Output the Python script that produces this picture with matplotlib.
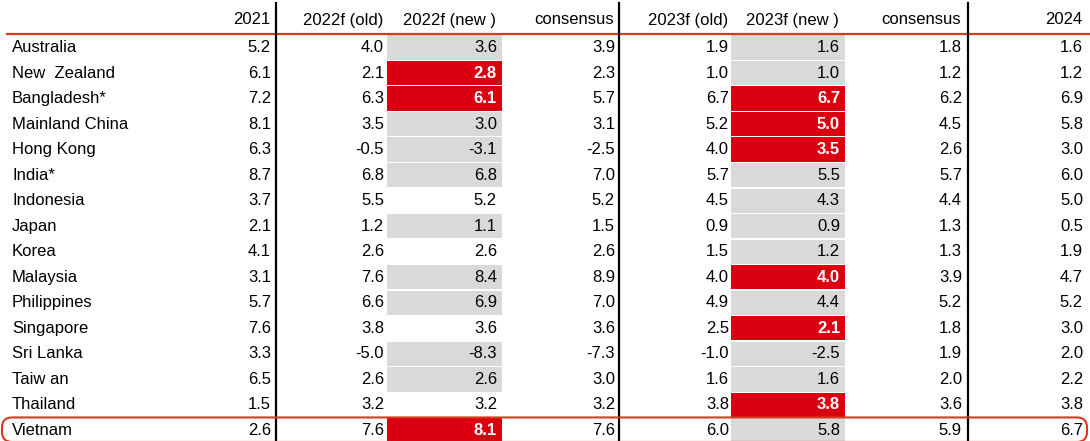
import matplotlib.pyplot as plt
from matplotlib.patches import Rectangle, FancyBboxPatch

plt.rcParams['font.family'] = ['Liberation Sans', 'DejaVu Sans']

countries = ['Australia', 'New  Zealand', 'Bangladesh*', 'Mainland China', 'Hong Kong',
             'India*', 'Indonesia', 'Japan', 'Korea', 'Malaysia', 'Philippines',
             'Singapore', 'Sri Lanka', 'Taiw an', 'Thailand', 'Vietnam']
headers = ['2021', '2022f (old)', '2022f (new )', 'consensus',
           '2023f (old)', '2023f (new )', 'consensus', '2024']

y2021 = [5.2, 6.1, 7.2, 8.1, 6.3, 8.7, 3.7, 2.1, 4.1, 3.1, 5.7, 7.6, 3.3, 6.5, 1.5, 2.6]
y2022_old = [4.0, 2.1, 6.3, 3.5, -0.5, 6.8, 5.5, 1.2, 2.6, 7.6, 6.6, 3.8, -5.0, 2.6, 3.2, 7.6]
y2022_new = [3.6, 2.8, 6.1, 3.0, -3.1, 6.8, 5.2, 1.1, 2.6, 8.4, 6.9, 3.6, -8.3, 2.6, 3.2, 8.1]
cons2022 = [3.9, 2.3, 5.7, 3.1, -2.5, 7.0, 5.2, 1.5, 2.6, 8.9, 7.0, 3.6, -7.3, 3.0, 3.2, 7.6]
y2023_old = [1.9, 1.0, 6.7, 5.2, 4.0, 5.7, 4.5, 0.9, 1.5, 4.0, 4.9, 2.5, -1.0, 1.6, 3.8, 6.0]
y2023_new = [1.6, 1.0, 6.7, 5.0, 3.5, 5.5, 4.3, 0.9, 1.2, 4.0, 4.4, 2.1, -2.5, 1.6, 3.8, 5.8]
cons2023 = [1.8, 1.2, 6.2, 4.5, 2.6, 5.7, 4.4, 1.3, 1.3, 3.9, 5.2, 1.8, 1.9, 2.0, 3.6, 5.9]
y2024 = [1.6, 1.2, 6.9, 5.8, 3.0, 6.0, 5.0, 0.5, 1.9, 4.7, 5.2, 3.0, 2.0, 2.2, 3.8, 6.7]

# cell marks for the "new" forecast columns: r = red (revised), g = grey, '' = none
mark2022 = ['g', 'r', 'r', 'g', 'g', 'g', '', 'g', '', 'g', 'g', '', 'g', 'g', '', 'r']
mark2023 = ['g', 'g', 'r', 'r', 'r', 'g', 'g', 'g', 'g', 'r', 'g', 'r', 'g', 'g', 'r', 'g']

columns = [y2021, y2022_old, y2022_new, cons2022, y2023_old, y2023_new, cons2023, y2024]
marks = {2: mark2022, 5: mark2023}

RED = '#db0011'
GREY = '#d9d9d9'
LINE_RED = '#d9391e'

W, H = 1090, 441
fig = plt.figure(figsize=(W / 100, H / 100), dpi=100)
ax = fig.add_axes([0, 0, 1, 1])
ax.set_xlim(0, W)
ax.set_ylim(H, 0)
ax.axis('off')

col_right = [271, 384, 497, 615, 729, 840, 962, 1083]
shade_span = {2: (387, 502), 5: (731, 845)}
row0, dy = 47.5, 25.53
fs = 12

# shaded cells
for c, mk in marks.items():
    x0, x1 = shade_span[c]
    for i, m in enumerate(mk):
        if not m:
            continue
        yc = row0 + i * dy
        ax.add_patch(Rectangle((x0, yc - dy / 2 + 0.6), x1 - x0, dy - 1.2,
                               facecolor=RED if m == 'r' else GREY, edgecolor='none', zorder=1))

# header
for c, h in enumerate(headers):
    ax.text(col_right[c] - 1, 20, h, ha='right', va='center', fontsize=fs, zorder=3)
ax.plot([7, W], [33.5, 33.5], color=LINE_RED, lw=1.6, zorder=2)

# rows
for i, name in enumerate(countries):
    yc = row0 + i * dy
    ax.text(12, yc, name, ha='left', va='center', fontsize=fs, zorder=3)
    for c, vals in enumerate(columns):
        m = marks.get(c, [''] * len(countries))[i]
        ax.text(col_right[c], yc, f'{vals[i]:.1f}', ha='right', va='center', fontsize=fs,
                color='white' if m == 'r' else 'black',
                fontweight='bold' if m == 'r' else 'normal', zorder=3)

# vertical separators
for x in [276, 619, 968]:
    ax.plot([x, x], [3, H], color='black', lw=1.6, zorder=2)

# Vietnam highlight
yv = row0 + (len(countries) - 1) * dy
ax.add_patch(FancyBboxPatch((2, yv - 13), 1085, 24.5,
                            boxstyle='round,pad=0,rounding_size=10',
                            facecolor='none', edgecolor=LINE_RED, lw=1.5, zorder=4))

fig.savefig('out.png', dpi=100)
